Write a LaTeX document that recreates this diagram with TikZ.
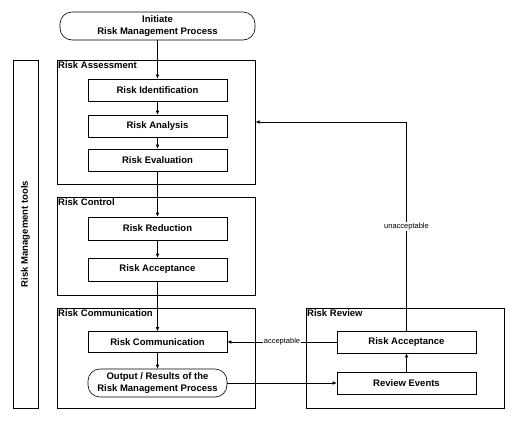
\documentclass[tikz,border=0pt]{standalone}
\usepackage{fontspec}
\setmainfont{Liberation Sans}
\usetikzlibrary{arrows.meta}
\tikzset{
  stepbox/.style={draw,line width=0.6pt,minimum width=139pt,minimum height=22pt,inner sep=0pt,font=\bfseries\fontsize{9.5}{11.5}\selectfont,align=center},
  stadium/.style={stepbox,rounded corners=12pt,minimum height=28pt},
  groupbox/.style={draw,line width=1pt,minimum width=198pt,inner sep=0pt},
  grouptitle/.style={anchor=north west,inner sep=1.5pt,font=\bfseries\fontsize{9.5}{11}\selectfont},
  flow/.style={line width=0.6pt,-{Latex[length=4pt,width=3.5pt]}},
  small/.style={font=\fontsize{7.5}{9}\selectfont,fill=white,inner sep=1pt}
}
\begin{document}
\begin{tikzpicture}[x=1pt,y=-1pt]
  \useasboundingbox (0,0) rectangle (518,432);
  % tools bar
  \node[draw,line width=1pt,rotate=90,minimum width=348pt,minimum height=25pt,inner sep=0pt,
        font=\bfseries\fontsize{9.5}{11}\selectfont] (tools) at (25.5,234) {Risk Management tools};
  % start
  \node[stadium,minimum width=195pt] (start) at (157.5,26) {Initiate\\Risk Management Process};
  % risk assessment
  \node[groupbox,minimum height=124pt] (assess) at (156,122) {};
  \node[grouptitle] at (assess.north west) {Risk Assessment};
  \node[stepbox] (ident) at (157.5,90) {Risk Identification};
  \node[stepbox] (analysis) at (157.5,126) {Risk Analysis};
  \node[stepbox] (evalu) at (157.5,160) {Risk Evaluation};
  % risk control
  \node[groupbox,minimum height=98pt] (control) at (156,246) {};
  \node[grouptitle] at (control.north west) {Risk Control};
  \node[stepbox,minimum height=23pt] (reduce) at (157.5,228.5) {Risk Reduction};
  \node[stepbox,minimum height=23pt] (accept) at (157.5,269.5) {Risk Acceptance};
  % risk communication
  \node[groupbox,minimum height=100pt] (comm) at (156,358) {};
  \node[grouptitle] at (comm.north west) {Risk Communication};
  \node[stepbox,minimum height=21pt] (commstep) at (157.5,342) {Risk Communication};
  \node[stadium] (output) at (157.5,383) {Output / Results of the\\Risk Management Process};
  % risk review
  \node[groupbox,minimum height=100pt] (review) at (405,358) {};
  \node[grouptitle] at (review.north west) {Risk Review};
  \node[stepbox] (revacc) at (406.5,342) {Risk Acceptance};
  \node[stepbox] (events) at (406.5,383) {Review Events};
  % connectors
  \draw[flow] (start) -- (ident);
  \draw[flow] (ident) -- (analysis);
  \draw[flow] (analysis) -- (evalu);
  \draw[flow] (evalu) -- (reduce);
  \draw[flow] (reduce) -- (accept);
  \draw[flow] (accept) -- (commstep);
  \draw[flow] (commstep) -- (output);
  \draw[flow] (output) -- (events);
  \draw[flow] (events) -- (revacc);
  \draw[flow] (revacc) -- node[small] {acceptable} (commstep);
  \draw[flow] (revacc.north) |- node[small,pos=0.25] {unacceptable} (assess.east);
\end{tikzpicture}
\end{document}
